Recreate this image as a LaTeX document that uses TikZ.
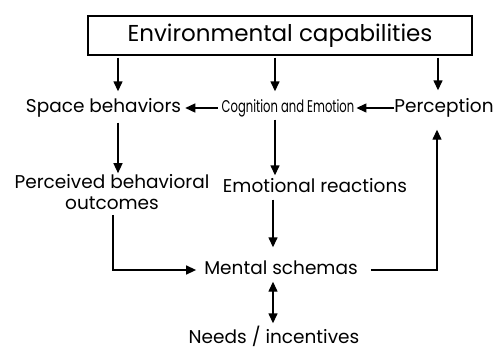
\documentclass[tikz,border=0pt]{standalone}
\usepackage{fontspec}
\setmainfont{Poppins}
\newfontfamily\condf[FakeStretch=0.68]{Poppins}
\usetikzlibrary{arrows.meta,calc}
\begin{document}
\begin{tikzpicture}[x=1pt,y=-1pt,
  lbl/.style={inner sep=0pt,text height=13pt,text depth=4pt,font=\fontsize{18.5}{22}\selectfont},
  arr/.style={line width=1.4pt,-{Triangle[length=10pt,width=9pt]}},
  arrb/.style={line width=1.4pt,{Triangle[length=10pt,width=9pt]}-{Triangle[length=10pt,width=9pt]}},
  ln/.style={line width=1.4pt}]
\useasboundingbox (0,0) rectangle (501,351);
\node[draw,line width=1.3pt,minimum width=384pt,minimum height=39pt,inner sep=0pt,
  font=\fontsize{23}{27}\selectfont] (env) at (280,35.5) {Environmental capabilities};
\node[lbl] (sb) at (103.5,108) {Space behaviors};
\node[lbl,font=\condf\fontsize{17}{20}\selectfont] (ce) at (288,108) {Cognition and Emotion};
\node[lbl] (pc) at (444,108) {Perception};
\node[lbl,align=center,text height=,text depth=,font=\fontsize{18.5}{21}\selectfont] (pbo) at (112,192) {Perceived behavioral\\outcomes};
\node[lbl] (er) at (315,188) {Emotional reactions};
\node[lbl] (ms) at (281,270) {Mental schemas};
\node[lbl] (ni) at (274,339) {Needs / incentives};
\coordinate (c1) at (118,0);
\coordinate (c2) at (275,0);
\coordinate (c3) at (438,0);
\coordinate (c4) at (273,0);
\coordinate (c5) at (113,0);
\coordinate (c6) at (437,0);
\draw[arr,shorten <=2pt,shorten >=8pt] (env.south -| c1) -- (sb.north -| c1);
\draw[arr,shorten <=2pt,shorten >=8pt] (env.south -| c2) -- (ce.north -| c2);
\draw[arr,shorten <=2pt,shorten >=9pt] (env.south -| c3) -- (pc.north -| c3);
\draw[arr,shorten <=4pt,shorten >=4pt] (ce.west) -- (sb.east);
\draw[arr,shorten >=2pt] (pc.west) -- (ce.east);
\draw[arr,shorten <=6pt,shorten >=1pt] (sb.south -| c1) -- (pbo.north -| c1);
\draw[arr,shorten <=3pt,shorten >=4pt] (ce.south -| c2) -- (er.north -| c2);
\draw[arr,shorten <=3pt,shorten >=14pt] (er.south -| c4) -- (ms.north -| c4);
\draw[arr,shorten <=5pt,shorten >=8pt] (pbo.south -| c5) |- (ms.west);
\draw[arr,shorten <=13pt,shorten >=13pt] (ms.east) -| (pc.south -| c6);
\draw[arrb,shorten <=3pt,shorten >=7pt] (ms.south -| c4) -- (ni.north -| c4);
\end{tikzpicture}
\end{document}
